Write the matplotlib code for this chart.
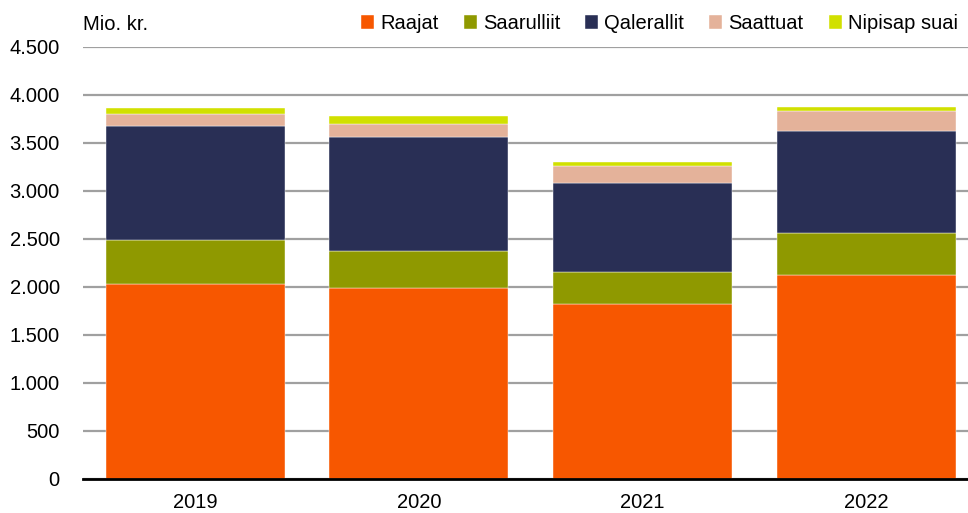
import numpy as np
import matplotlib.pyplot as plt

plt.rcParams['font.family'] = ['Liberation Sans', 'DejaVu Sans']

years = ['2019', '2020', '2021', '2022']
raajat = [2035, 1994, 1823, 2129]
saarulliit = [451, 385, 330, 433]
qalerallit = [1188, 1188, 934, 1060]
saattuat = [125, 131, 173, 211]
nipisap = [66, 83, 46, 39]

series = [('Raajat', raajat, '#F75700'),
          ('Saarulliit', saarulliit, '#8F9900'),
          ('Qalerallit', qalerallit, '#292F55'),
          ('Saattuat', saattuat, '#E4B29A'),
          ('Nipisap suai', nipisap, '#D1E000')]

fs = 14.5

fig = plt.figure(figsize=(9.68, 5.13), dpi=100)
ax = fig.add_axes([83.3 / 968, 34 / 513, 895 / 968, 432 / 513])

x = np.arange(len(years))
bottom = np.zeros(len(years))
for name, vals, col in series:
    ax.bar(x, vals, 0.8, bottom=bottom, color=col, label=name,
           edgecolor='white', linewidth=0.3, zorder=3)
    bottom += np.array(vals)

ax.set_xlim(-0.5, len(years) - 0.5)
ax.set_ylim(0, 4500)
yt = np.arange(0, 4501, 500)
ax.set_yticks(yt)
ax.set_yticklabels([f'{v:,}'.replace(',', '.') for v in yt], fontsize=fs)
ax.set_xticks(x)
ax.set_xticklabels(years, fontsize=fs)
ax.tick_params(axis='both', length=0)
ax.tick_params(axis='y', pad=17)
ax.tick_params(axis='x', pad=10)
ax.yaxis.grid(True, color='#A0A0A0', linewidth=1.6, zorder=0)
ax.set_axisbelow(True)
for s in ['top', 'right', 'left']:
    ax.spines[s].set_visible(False)
ax.spines['bottom'].set_linewidth(2)
ax.spines['bottom'].set_color('black')
ax.spines['bottom'].set_zorder(4)

fig.text(83 / 968, 1 - 25 / 513, 'Mio. kr.', fontsize=fs, va='center', ha='left')

fig.legend(loc='upper right', bbox_to_anchor=(966 / 968, 1 - 6 / 513), ncol=5,
           frameon=False, fontsize=fs, handlelength=0.65, handleheight=0.65,
           handletextpad=0.3, columnspacing=1.25, borderaxespad=0)

fig.savefig('out.png', dpi=100)
